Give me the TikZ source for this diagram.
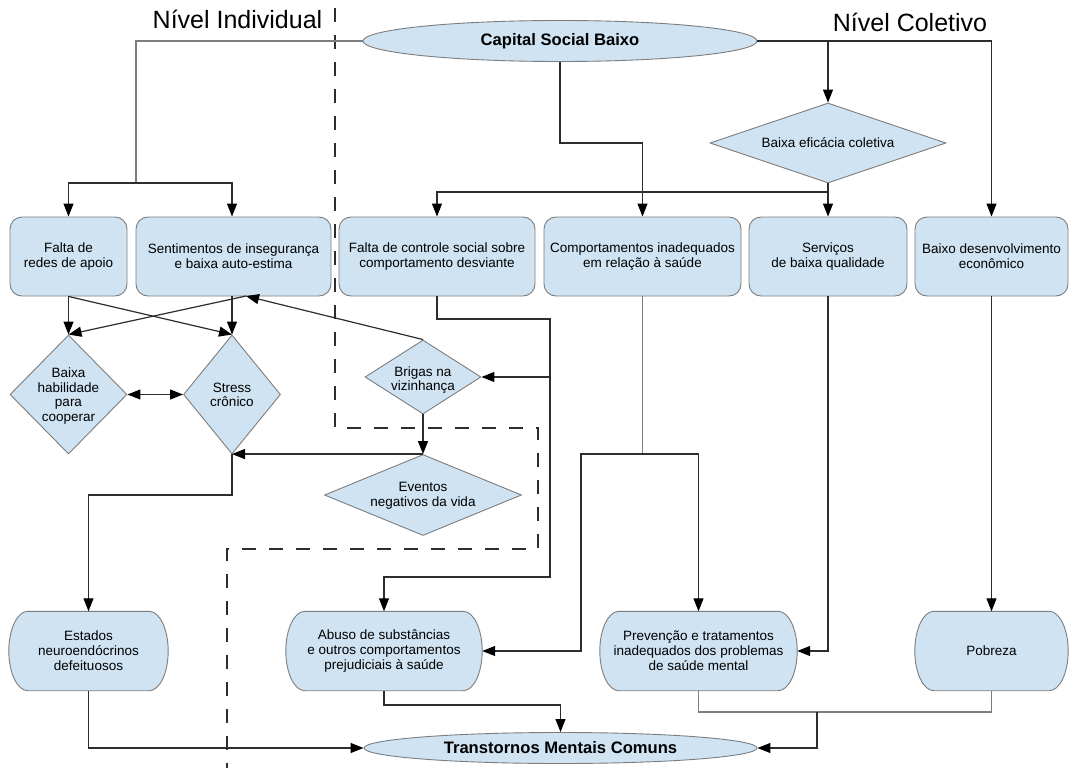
\documentclass[tikz,border=0pt]{standalone}
\usepackage{fontspec}
\setmainfont{Liberation Sans}
\usetikzlibrary{shapes.geometric,arrows.meta,calc}
\pgfdeclarelayer{bg}
\pgfsetlayers{bg,main}
\definecolor{boxblue}{RGB}{207,227,242}
\definecolor{bordergray}{RGB}{125,125,125}
\definecolor{linecol}{RGB}{45,45,45}
\definecolor{lightline}{RGB}{125,125,125}
\definecolor{dashcol}{RGB}{45,45,45}
\newcommand{\boxfont}{\fontsize{13.5}{15}\selectfont}
\newcommand{\diafont}{\fontsize{13.5}{14.5}\selectfont}
\newcommand{\capfont}{\fontsize{16.6}{19}\selectfont\bfseries}
\newcommand{\levfont}{\fontsize{25}{28}\selectfont}
\tikzset{
  box/.style={draw=bordergray, line width=0.9pt, fill=boxblue, rounded corners=12pt,
    minimum height=79pt, inner xsep=2pt, align=center, font=\boxfont},
  termtext/.style={rectangle, minimum height=79pt, inner sep=0pt, align=center, font=\boxfont},
  termfill/.style={draw=bordergray, line width=0.9pt, fill=boxblue},
  dia/.style={draw=bordergray, line width=0.9pt, fill=boxblue, diamond, inner sep=0pt},
  dtext/.style={align=center, font=\diafont, inner sep=0pt},
  ell/.style={draw=bordergray, line width=0.9pt, fill=boxblue, ellipse, inner sep=0pt, font=\capfont},
  conn/.style={draw=linecol, line width=1.2pt},
  lconn/.style={draw=lightline, line width=1.2pt},
  arr/.style={conn, -{Triangle[length=13pt,width=10pt,color=black]}},
  dbl/.style={conn, {Triangle[length=13pt,width=10pt,color=black]}-{Triangle[length=13pt,width=10pt,color=black]}},
  dashline/.style={draw=dashcol, line width=1.2pt, dash pattern=on 14pt off 13pt},
}
% stadium-like outline with half-elliptical ends, drawn behind node #1
\newcommand{\termshape}[1]{%
\begin{pgfonlayer}{bg}
\path[termfill]
 ($(#1.north west)+(19,0)$) -- ($(#1.north east)+(-19,0)$)
 .. controls ($(#1.north east)+(-8.5,0)$) and ($(#1.east)+(0,-21.8)$) .. (#1.east)
 .. controls ($(#1.east)+(0,21.8)$) and ($(#1.south east)+(-8.5,0)$) .. ($(#1.south east)+(-19,0)$)
 -- ($(#1.south west)+(19,0)$)
 .. controls ($(#1.south west)+(8.5,0)$) and ($(#1.west)+(0,21.8)$) .. (#1.west)
 .. controls ($(#1.west)+(0,-21.8)$) and ($(#1.north west)+(8.5,0)$) .. cycle;
\end{pgfonlayer}}
\begin{document}
\begin{tikzpicture}[x=1pt,y=-1pt]
\begin{pgfonlayer}{bg}
\fill[white] (0,0) rectangle (1069,768);
\end{pgfonlayer}
\useasboundingbox (0,0) rectangle (1069,768);

% dashed separation line
\draw[dashline] (335,8) -- (335,428) -- (538,428) -- (538,549) -- (227,549) -- (227,768);

% titles
\node[font=\levfont, anchor=base, inner sep=0pt] (nI) at (237.5,29) {Nível Individual};
\node[font=\levfont, anchor=base, inner sep=0pt] (nC) at (910,32) {Nível Coletivo};

% ellipses
\node[ell, minimum width=394pt, minimum height=41pt] (cap) at (560,41) {Capital Social Baixo};
\node[ell, minimum width=393pt, minimum height=31pt] (tmc) at (560.5,748) {Transtornos Mentais Comuns};

% top boxes
\node[box, minimum width=117pt] (f1) at (68.5,256.5) {Falta de\\redes de apoio};
\node[box, minimum width=195pt] (f2) at (233.5,256.5) {Sentimentos de insegurança\\e baixa auto-estima};
\node[box, minimum width=196pt] (f3) at (437,256.5) {Falta de controle social sobre\\comportamento desviante};
\node[box, minimum width=197pt] (f4) at (642.5,256.5) {Comportamentos inadequados\\em relação à saúde};
\node[box, minimum width=158pt] (f5) at (828,256.5) {Serviços\\de baixa qualidade};
\node[box, minimum width=153pt] (f6) at (991.5,256.5) {Baixo desenvolvimento\\econômico};

% bottom terminators
\node[termtext, minimum width=159pt] (e1) at (88.5,651) {Estados\\neuroendócrinos\\defeituosos};
\node[termtext, minimum width=196pt] (e2) at (384,651) {Abuso de substâncias\\e outros comportamentos\\prejudiciais à saúde};
\node[termtext, minimum width=197pt] (e3) at (698.5,651) {Prevenção e tratamentos\\inadequados dos problemas\\de saúde mental};
\node[termtext, minimum width=153pt] (e4) at (991.5,651) {Pobreza};
\termshape{e1}
\termshape{e2}
\termshape{e3}
\termshape{e4}

% diamonds
\node[dia, minimum width=236pt, minimum height=80pt] (d5) at (828,143) {};
\node[dtext] (d5t) at (d5) {Baixa eficácia coletiva};
\node[dia, minimum width=117pt, minimum height=119pt] (d1) at (68.5,394.5) {};
\node[dtext] (d1t) at (68.5,396) {Baixa\\habilidade\\para\\cooperar};
\node[dia, minimum width=97pt, minimum height=119pt] (d2) at (232,394.5) {};
\node[dtext] (d2t) at (232,395) {Stress\\crônico};
\node[dia, minimum width=116pt, minimum height=74pt] (d3) at (423,377) {};
\node[dtext] (d3t) at (423,380) {Brigas na\\vizinhança};
\node[dia, minimum width=197pt, minimum height=81pt] (d4) at (423,495) {};
\node[dtext] (d4t) at (423,496) {Eventos\\negativos da vida};

% junction coordinates
\coordinate (j1) at (136,183);
\coordinate (j2) at (560,143);
\coordinate (j3) at (828,192);
\coordinate (k1) at (550,319);
\coordinate (k2) at (550,577);
\coordinate (k3) at (232,495);
\coordinate (k4) at (642.5,454);
\coordinate (k5) at (581,454);
\coordinate (k6) at (384,705);
\coordinate (k7) at (817,712);
\coordinate (f2b) at (246,296);

% connectors
\draw[lconn] (cap.west) -| (j1);
\draw[arr] (j1) -| (f1.north);
\draw[arr] (j1) -| (f2.north -| d2.north);
\draw[arr] (cap.east) -| (f6.north);
\draw[arr] (cap.east -| d5.north) -- (d5.north);
\draw[arr] (cap.south) -- (j2) -| (f4.north);
\draw[conn] (d5.south) -- (j3);
\draw[arr] (j3) -- (f5.north);
\draw[arr] (j3) -| (f3.north);

\draw[arr] (f1.south) -- (d1.north);
\draw[arr] (f1.south) -- (d2.north);
\draw[arr] (f2.south -| d2.north) -- (d2.north);
\draw[arr] (f2b) -- (d1.north);
\draw[arr] (d3.north) -- (f2b);
\draw[dbl] (d1.east) -- (d2.west);

\draw[arr] (f3.south) |- (k1) -- (k2) -| (e2.north);
\draw[arr] (k1 |- d3.east) -- (d3.east);
\draw[arr] (d3.south) -- (d4.north);
\draw[arr] (d4.north) -- (d4.north -| d2.south);
\draw[arr] (d2.south) -- (k3) -| (e1.north);

\draw[lconn] (f4.south) -- (k4);
\draw[arr] (k4) -- (k5) |- (e2.east);
\draw[arr] (k4) -| (e3.north);
\draw[arr] (f5.south) |- (e3.east);
\draw[arr] (f6.south) -- (e4.north);

\draw[arr] (e1.south) |- (tmc.west);
\draw[arr] (e2.south) -- (k6) -| (tmc.north);
\draw[lconn] (e3.south) |- (k7) -| (e4.south);
\draw[arr] (k7) |- (tmc.east);
\end{tikzpicture}
\end{document}
